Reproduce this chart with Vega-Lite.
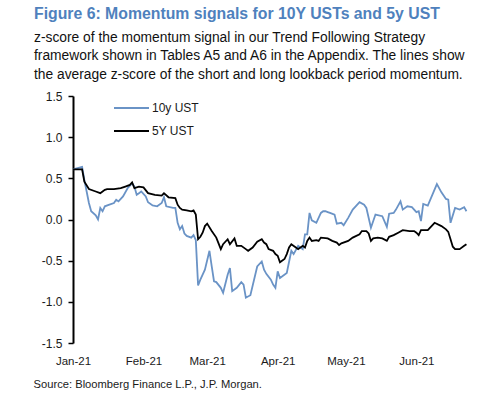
{
  "$schema": "https://vega.github.io/schema/vega-lite/v6.json",
  "width": 398,
  "height": 247,
  "autosize": {"type": "none"},
  "padding": {"left": 73, "top": 96, "right": 29, "bottom": 56},
  "background": "white",
  "config": {"view": {"stroke": null}, "font": "Liberation Sans"},
  "title": {
    "text": "Figure 6: Momentum signals for 10Y USTs and 5y UST",
    "subtitle": [
      "z-score of the momentum signal in our Trend Following Strategy",
      "framework shown in Tables A5 and A6 in the Appendix. The lines show",
      "the average z-score of the short and long lookback period momentum."
    ],
    "anchor": "start",
    "frame": "group",
    "dx": -39,
    "offset": 7,
    "font": "Liberation Sans",
    "fontSize": 15.8,
    "fontWeight": "bold",
    "color": "#4f81bd",
    "subtitleFont": "Liberation Sans",
    "subtitleFontSize": 13.8,
    "subtitleColor": "#111111",
    "subtitleLineHeight": 18.7,
    "subtitlePadding": 8
  },
  "encoding": {
    "x": {
      "field": "date",
      "type": "temporal",
      "scale": {"type": "utc", "domain": [{"year": 2021, "month": 1, "date": 1, "utc": true}, {"year": 2021, "month": 6, "date": 25, "utc": true}]},
      "axis": {
        "values": [
          {"year": 2021, "month": 1, "date": 1, "utc": true},
          {"year": 2021, "month": 2, "date": 1, "utc": true},
          {"year": 2021, "month": 3, "date": 1, "utc": true},
          {"year": 2021, "month": 4, "date": 1, "utc": true},
          {"year": 2021, "month": 5, "date": 1, "utc": true},
          {"year": 2021, "month": 6, "date": 1, "utc": true}
        ],
        "labelExpr": "utcFormat(datum.value, '%b-%y')",
        "domain": false,
        "ticks": false,
        "grid": false,
        "labelFlush": false,
        "labelOverlap": false,
        "labelPadding": 12,
        "labelFontSize": 11.5,
        "labelColor": "#1a1a1a",
        "title": "Source: Bloomberg Finance L.P., J.P. Morgan.",
        "titleFontSize": 11.2,
        "titleFontWeight": "normal",
        "titleColor": "#1a1a1a",
        "titleAlign": "left",
        "titleAnchor": "start",
        "titleX": -40,
        "titleY": 44,
        "titleBaseline": "alphabetic"
      }
    },
    "y": {
      "field": "value",
      "type": "quantitative",
      "scale": {"domain": [-1.5, 1.5], "nice": false, "zero": false},
      "axis": {
        "values": [-1.5, -1, -0.5, 0, 0.5, 1, 1.5],
        "labelExpr": "datum.value < 0 ? '-' + format(-datum.value, '.1f') : format(datum.value, '.1f')",
        "grid": false,
        "domain": true,
        "ticks": true,
        "domainColor": "black",
        "domainWidth": 2,
        "tickColor": "black",
        "tickSize": 5,
        "tickWidth": 1.5,
        "labelPadding": 6,
        "labelFontSize": 12,
        "labelColor": "#1a1a1a",
        "title": null
      }
    }
  },
  "layer": [
    {
      "data": {"values": [{"date": "2021-01-01"}, {"date": "2021-06-25"}]},
      "mark": {"type": "line", "color": "black", "strokeWidth": 1.5},
      "encoding": {"y": {"datum": 0, "type": "quantitative"}}
    },
    {
      "data": {"values": [{"date": "2021-02-01"}, {"date": "2021-03-01"}, {"date": "2021-04-01"}, {"date": "2021-05-01"}, {"date": "2021-06-01"}]},
      "mark": {"type": "rule", "color": "black", "strokeWidth": 1.3},
      "encoding": {
        "y": {"datum": 0, "type": "quantitative"},
        "y2": {"datum": -0.055}
      }
    },
    {
      "data": {"values": [
        {"date": "2021-01-01", "series": "10y UST", "value": 0.61},
        {"date": "2021-01-05", "series": "10y UST", "value": 0.64},
        {"date": "2021-01-06", "series": "10y UST", "value": 0.48},
        {"date": "2021-01-08", "series": "10y UST", "value": 0.20},
        {"date": "2021-01-09", "series": "10y UST", "value": 0.10},
        {"date": "2021-01-11", "series": "10y UST", "value": 0.05},
        {"date": "2021-01-12", "series": "10y UST", "value": 0.00},
        {"date": "2021-01-13", "series": "10y UST", "value": 0.14},
        {"date": "2021-01-14", "series": "10y UST", "value": 0.10},
        {"date": "2021-01-15", "series": "10y UST", "value": 0.16},
        {"date": "2021-01-17", "series": "10y UST", "value": 0.18},
        {"date": "2021-01-19", "series": "10y UST", "value": 0.20},
        {"date": "2021-01-20", "series": "10y UST", "value": 0.24},
        {"date": "2021-01-21", "series": "10y UST", "value": 0.22},
        {"date": "2021-01-23", "series": "10y UST", "value": 0.28},
        {"date": "2021-01-25", "series": "10y UST", "value": 0.38},
        {"date": "2021-01-27", "series": "10y UST", "value": 0.44},
        {"date": "2021-01-28", "series": "10y UST", "value": 0.40},
        {"date": "2021-01-29", "series": "10y UST", "value": 0.30},
        {"date": "2021-01-30", "series": "10y UST", "value": 0.32},
        {"date": "2021-01-31", "series": "10y UST", "value": 0.34},
        {"date": "2021-02-02", "series": "10y UST", "value": 0.28},
        {"date": "2021-02-03", "series": "10y UST", "value": 0.21},
        {"date": "2021-02-05", "series": "10y UST", "value": 0.17},
        {"date": "2021-02-07", "series": "10y UST", "value": 0.16},
        {"date": "2021-02-09", "series": "10y UST", "value": 0.20},
        {"date": "2021-02-10", "series": "10y UST", "value": 0.27},
        {"date": "2021-02-11", "series": "10y UST", "value": 0.16},
        {"date": "2021-02-14", "series": "10y UST", "value": 0.14},
        {"date": "2021-02-15", "series": "10y UST", "value": 0.14},
        {"date": "2021-02-16", "series": "10y UST", "value": -0.04},
        {"date": "2021-02-17", "series": "10y UST", "value": -0.12},
        {"date": "2021-02-18", "series": "10y UST", "value": -0.08},
        {"date": "2021-02-19", "series": "10y UST", "value": -0.17},
        {"date": "2021-02-20", "series": "10y UST", "value": -0.20},
        {"date": "2021-02-22", "series": "10y UST", "value": -0.22},
        {"date": "2021-02-23", "series": "10y UST", "value": -0.19},
        {"date": "2021-02-24", "series": "10y UST", "value": -0.25},
        {"date": "2021-02-25", "series": "10y UST", "value": -0.80},
        {"date": "2021-02-26", "series": "10y UST", "value": -0.73},
        {"date": "2021-02-28", "series": "10y UST", "value": -0.61},
        {"date": "2021-03-02", "series": "10y UST", "value": -0.38},
        {"date": "2021-03-03", "series": "10y UST", "value": -0.57},
        {"date": "2021-03-04", "series": "10y UST", "value": -0.75},
        {"date": "2021-03-05", "series": "10y UST", "value": -0.76},
        {"date": "2021-03-07", "series": "10y UST", "value": -0.83},
        {"date": "2021-03-08", "series": "10y UST", "value": -0.89},
        {"date": "2021-03-10", "series": "10y UST", "value": -0.67},
        {"date": "2021-03-11", "series": "10y UST", "value": -0.59},
        {"date": "2021-03-12", "series": "10y UST", "value": -0.87},
        {"date": "2021-03-14", "series": "10y UST", "value": -0.83},
        {"date": "2021-03-16", "series": "10y UST", "value": -0.76},
        {"date": "2021-03-17", "series": "10y UST", "value": -0.79},
        {"date": "2021-03-18", "series": "10y UST", "value": -0.95},
        {"date": "2021-03-20", "series": "10y UST", "value": -0.92},
        {"date": "2021-03-23", "series": "10y UST", "value": -0.57},
        {"date": "2021-03-25", "series": "10y UST", "value": -0.51},
        {"date": "2021-03-26", "series": "10y UST", "value": -0.61},
        {"date": "2021-03-27", "series": "10y UST", "value": -0.66},
        {"date": "2021-03-29", "series": "10y UST", "value": -0.73},
        {"date": "2021-03-30", "series": "10y UST", "value": -0.79},
        {"date": "2021-03-31", "series": "10y UST", "value": -0.83},
        {"date": "2021-04-01", "series": "10y UST", "value": -0.63},
        {"date": "2021-04-02", "series": "10y UST", "value": -0.71},
        {"date": "2021-04-05", "series": "10y UST", "value": -0.65},
        {"date": "2021-04-07", "series": "10y UST", "value": -0.38},
        {"date": "2021-04-08", "series": "10y UST", "value": -0.42},
        {"date": "2021-04-10", "series": "10y UST", "value": -0.32},
        {"date": "2021-04-12", "series": "10y UST", "value": -0.36},
        {"date": "2021-04-13", "series": "10y UST", "value": -0.18},
        {"date": "2021-04-14", "series": "10y UST", "value": -0.18},
        {"date": "2021-04-15", "series": "10y UST", "value": 0.08},
        {"date": "2021-04-16", "series": "10y UST", "value": -0.01},
        {"date": "2021-04-18", "series": "10y UST", "value": -0.04},
        {"date": "2021-04-20", "series": "10y UST", "value": 0.08},
        {"date": "2021-04-21", "series": "10y UST", "value": 0.10},
        {"date": "2021-04-22", "series": "10y UST", "value": 0.10},
        {"date": "2021-04-23", "series": "10y UST", "value": 0.09},
        {"date": "2021-04-24", "series": "10y UST", "value": 0.08},
        {"date": "2021-04-26", "series": "10y UST", "value": 0.06},
        {"date": "2021-04-27", "series": "10y UST", "value": -0.05},
        {"date": "2021-04-29", "series": "10y UST", "value": -0.04},
        {"date": "2021-04-30", "series": "10y UST", "value": -0.07},
        {"date": "2021-05-02", "series": "10y UST", "value": 0.02},
        {"date": "2021-05-04", "series": "10y UST", "value": 0.12},
        {"date": "2021-05-07", "series": "10y UST", "value": 0.21},
        {"date": "2021-05-09", "series": "10y UST", "value": 0.18},
        {"date": "2021-05-10", "series": "10y UST", "value": 0.14},
        {"date": "2021-05-12", "series": "10y UST", "value": -0.10},
        {"date": "2021-05-14", "series": "10y UST", "value": 0.06},
        {"date": "2021-05-17", "series": "10y UST", "value": 0.04},
        {"date": "2021-05-19", "series": "10y UST", "value": -0.09},
        {"date": "2021-05-20", "series": "10y UST", "value": 0.07},
        {"date": "2021-05-22", "series": "10y UST", "value": 0.08},
        {"date": "2021-05-23", "series": "10y UST", "value": 0.12},
        {"date": "2021-05-25", "series": "10y UST", "value": 0.22},
        {"date": "2021-05-26", "series": "10y UST", "value": 0.12},
        {"date": "2021-05-28", "series": "10y UST", "value": 0.16},
        {"date": "2021-05-30", "series": "10y UST", "value": 0.15},
        {"date": "2021-06-01", "series": "10y UST", "value": 0.09},
        {"date": "2021-06-02", "series": "10y UST", "value": 0.10},
        {"date": "2021-06-03", "series": "10y UST", "value": -0.02},
        {"date": "2021-06-04", "series": "10y UST", "value": 0.19},
        {"date": "2021-06-06", "series": "10y UST", "value": 0.17},
        {"date": "2021-06-10", "series": "10y UST", "value": 0.43},
        {"date": "2021-06-12", "series": "10y UST", "value": 0.33},
        {"date": "2021-06-14", "series": "10y UST", "value": 0.25},
        {"date": "2021-06-15", "series": "10y UST", "value": 0.24},
        {"date": "2021-06-16", "series": "10y UST", "value": -0.04},
        {"date": "2021-06-18", "series": "10y UST", "value": 0.14},
        {"date": "2021-06-20", "series": "10y UST", "value": 0.12},
        {"date": "2021-06-22", "series": "10y UST", "value": 0.15},
        {"date": "2021-06-23", "series": "10y UST", "value": 0.10},
        {"date": "2021-01-01", "series": "5Y UST", "value": 0.61},
        {"date": "2021-01-05", "series": "5Y UST", "value": 0.61},
        {"date": "2021-01-06", "series": "5Y UST", "value": 0.46},
        {"date": "2021-01-08", "series": "5Y UST", "value": 0.37},
        {"date": "2021-01-11", "series": "5Y UST", "value": 0.34},
        {"date": "2021-01-13", "series": "5Y UST", "value": 0.32},
        {"date": "2021-01-14", "series": "5Y UST", "value": 0.34},
        {"date": "2021-01-15", "series": "5Y UST", "value": 0.36},
        {"date": "2021-01-16", "series": "5Y UST", "value": 0.37},
        {"date": "2021-01-19", "series": "5Y UST", "value": 0.37},
        {"date": "2021-01-22", "series": "5Y UST", "value": 0.38},
        {"date": "2021-01-24", "series": "5Y UST", "value": 0.40},
        {"date": "2021-01-26", "series": "5Y UST", "value": 0.42},
        {"date": "2021-01-27", "series": "5Y UST", "value": 0.45},
        {"date": "2021-01-28", "series": "5Y UST", "value": 0.38},
        {"date": "2021-01-30", "series": "5Y UST", "value": 0.40},
        {"date": "2021-02-01", "series": "5Y UST", "value": 0.39},
        {"date": "2021-02-03", "series": "5Y UST", "value": 0.32},
        {"date": "2021-02-06", "series": "5Y UST", "value": 0.30},
        {"date": "2021-02-09", "series": "5Y UST", "value": 0.29},
        {"date": "2021-02-10", "series": "5Y UST", "value": 0.32},
        {"date": "2021-02-12", "series": "5Y UST", "value": 0.27},
        {"date": "2021-02-15", "series": "5Y UST", "value": 0.26},
        {"date": "2021-02-16", "series": "5Y UST", "value": 0.18},
        {"date": "2021-02-17", "series": "5Y UST", "value": 0.14},
        {"date": "2021-02-18", "series": "5Y UST", "value": 0.12},
        {"date": "2021-02-20", "series": "5Y UST", "value": 0.11},
        {"date": "2021-02-22", "series": "5Y UST", "value": 0.10},
        {"date": "2021-02-23", "series": "5Y UST", "value": 0.11},
        {"date": "2021-02-24", "series": "5Y UST", "value": 0.06},
        {"date": "2021-02-25", "series": "5Y UST", "value": -0.24},
        {"date": "2021-02-26", "series": "5Y UST", "value": -0.21},
        {"date": "2021-02-27", "series": "5Y UST", "value": -0.16},
        {"date": "2021-02-28", "series": "5Y UST", "value": -0.08},
        {"date": "2021-03-01", "series": "5Y UST", "value": -0.05},
        {"date": "2021-03-03", "series": "5Y UST", "value": -0.14},
        {"date": "2021-03-05", "series": "5Y UST", "value": -0.22},
        {"date": "2021-03-06", "series": "5Y UST", "value": -0.29},
        {"date": "2021-03-07", "series": "5Y UST", "value": -0.36},
        {"date": "2021-03-08", "series": "5Y UST", "value": -0.30},
        {"date": "2021-03-10", "series": "5Y UST", "value": -0.24},
        {"date": "2021-03-11", "series": "5Y UST", "value": -0.30},
        {"date": "2021-03-13", "series": "5Y UST", "value": -0.23},
        {"date": "2021-03-14", "series": "5Y UST", "value": -0.32},
        {"date": "2021-03-16", "series": "5Y UST", "value": -0.32},
        {"date": "2021-03-18", "series": "5Y UST", "value": -0.36},
        {"date": "2021-03-19", "series": "5Y UST", "value": -0.38},
        {"date": "2021-03-21", "series": "5Y UST", "value": -0.34},
        {"date": "2021-03-23", "series": "5Y UST", "value": -0.27},
        {"date": "2021-03-25", "series": "5Y UST", "value": -0.24},
        {"date": "2021-03-26", "series": "5Y UST", "value": -0.28},
        {"date": "2021-03-27", "series": "5Y UST", "value": -0.30},
        {"date": "2021-03-28", "series": "5Y UST", "value": -0.36},
        {"date": "2021-03-30", "series": "5Y UST", "value": -0.38},
        {"date": "2021-03-31", "series": "5Y UST", "value": -0.42},
        {"date": "2021-04-01", "series": "5Y UST", "value": -0.44},
        {"date": "2021-04-02", "series": "5Y UST", "value": -0.52},
        {"date": "2021-04-04", "series": "5Y UST", "value": -0.48},
        {"date": "2021-04-05", "series": "5Y UST", "value": -0.42},
        {"date": "2021-04-06", "series": "5Y UST", "value": -0.34},
        {"date": "2021-04-07", "series": "5Y UST", "value": -0.30},
        {"date": "2021-04-09", "series": "5Y UST", "value": -0.34},
        {"date": "2021-04-10", "series": "5Y UST", "value": -0.36},
        {"date": "2021-04-12", "series": "5Y UST", "value": -0.32},
        {"date": "2021-04-13", "series": "5Y UST", "value": -0.34},
        {"date": "2021-04-14", "series": "5Y UST", "value": -0.26},
        {"date": "2021-04-15", "series": "5Y UST", "value": -0.22},
        {"date": "2021-04-16", "series": "5Y UST", "value": -0.26},
        {"date": "2021-04-18", "series": "5Y UST", "value": -0.25},
        {"date": "2021-04-19", "series": "5Y UST", "value": -0.26},
        {"date": "2021-04-20", "series": "5Y UST", "value": -0.22},
        {"date": "2021-04-23", "series": "5Y UST", "value": -0.23},
        {"date": "2021-04-25", "series": "5Y UST", "value": -0.26},
        {"date": "2021-04-27", "series": "5Y UST", "value": -0.28},
        {"date": "2021-04-28", "series": "5Y UST", "value": -0.31},
        {"date": "2021-04-29", "series": "5Y UST", "value": -0.29},
        {"date": "2021-05-02", "series": "5Y UST", "value": -0.26},
        {"date": "2021-05-04", "series": "5Y UST", "value": -0.22},
        {"date": "2021-05-07", "series": "5Y UST", "value": -0.18},
        {"date": "2021-05-08", "series": "5Y UST", "value": -0.14},
        {"date": "2021-05-10", "series": "5Y UST", "value": -0.14},
        {"date": "2021-05-11", "series": "5Y UST", "value": -0.17},
        {"date": "2021-05-12", "series": "5Y UST", "value": -0.26},
        {"date": "2021-05-13", "series": "5Y UST", "value": -0.23},
        {"date": "2021-05-15", "series": "5Y UST", "value": -0.22},
        {"date": "2021-05-17", "series": "5Y UST", "value": -0.23},
        {"date": "2021-05-19", "series": "5Y UST", "value": -0.26},
        {"date": "2021-05-20", "series": "5Y UST", "value": -0.21},
        {"date": "2021-05-22", "series": "5Y UST", "value": -0.19},
        {"date": "2021-05-24", "series": "5Y UST", "value": -0.16},
        {"date": "2021-05-26", "series": "5Y UST", "value": -0.13},
        {"date": "2021-05-29", "series": "5Y UST", "value": -0.14},
        {"date": "2021-05-31", "series": "5Y UST", "value": -0.14},
        {"date": "2021-06-01", "series": "5Y UST", "value": -0.16},
        {"date": "2021-06-02", "series": "5Y UST", "value": -0.19},
        {"date": "2021-06-03", "series": "5Y UST", "value": -0.13},
        {"date": "2021-06-06", "series": "5Y UST", "value": -0.13},
        {"date": "2021-06-09", "series": "5Y UST", "value": -0.04},
        {"date": "2021-06-12", "series": "5Y UST", "value": -0.08},
        {"date": "2021-06-14", "series": "5Y UST", "value": -0.12},
        {"date": "2021-06-15", "series": "5Y UST", "value": -0.15},
        {"date": "2021-06-16", "series": "5Y UST", "value": -0.24},
        {"date": "2021-06-17", "series": "5Y UST", "value": -0.33},
        {"date": "2021-06-18", "series": "5Y UST", "value": -0.36},
        {"date": "2021-06-20", "series": "5Y UST", "value": -0.36},
        {"date": "2021-06-22", "series": "5Y UST", "value": -0.32},
        {"date": "2021-06-23", "series": "5Y UST", "value": -0.30}
      ]},
      "mark": {"type": "line", "strokeWidth": 1.8},
      "encoding": {
        "color": {
          "field": "series",
          "type": "nominal",
          "scale": {"domain": ["10y UST", "5Y UST"], "range": ["#6a93c6", "#000000"]},
          "legend": {
            "orient": "none",
            "legendX": 50.5,
            "legendY": 4,
            "title": null,
            "padding": 0,
            "symbolType": "M-2.5,0H2.5",
            "symbolSize": 196,
            "symbolStrokeWidth": 1.8,
            "labelFontSize": 12,
            "labelOffset": 12.5,
            "labelColor": "#1a1a1a",
            "rowPadding": 9
          }
        }
      }
    }
  ]
}
